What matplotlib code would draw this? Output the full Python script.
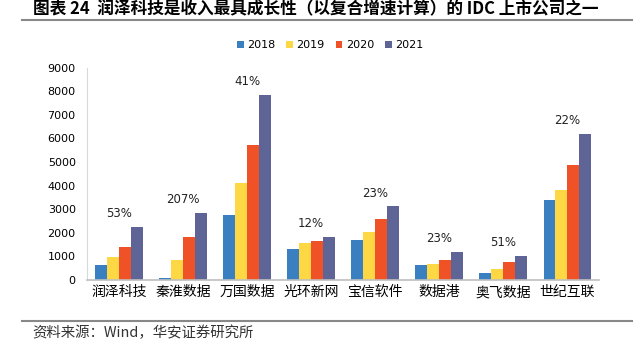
import matplotlib.pyplot as plt
import numpy as np

plt.rcParams['font.family'] = ['Noto Sans CJK SC', 'DejaVu Sans']

companies = ["润泽科技", "秦淮数据", "万国数据", "光环新网", "宝信软件", "数据港", "奥飞数据", "世纪互联"]
years = ["2018", "2019", "2020", "2021"]
rev_2018 = [610, 70, 2740, 1300, 1700, 640, 270, 3400]
rev_2019 = [970, 840, 4100, 1560, 2040, 670, 440, 3800]
rev_2020 = [1390, 1830, 5730, 1660, 2600, 840, 760, 4860]
rev_2021 = [2240, 2840, 7860, 1830, 3110, 1190, 1010, 6200]
cagr = ["53%", "207%", "41%", "12%", "23%", "23%", "51%", "22%"]

colors = ["#3A80C1", "#FDD844", "#F05228", "#5E6496"]

fig = plt.figure(figsize=(6.43, 3.51), dpi=100)
ax = fig.add_axes([0.135, 0.203, 0.797, 0.604])

x = np.arange(len(companies))
w = 0.185
series = [rev_2018, rev_2019, rev_2020, rev_2021]
for i, (vals, c, yr) in enumerate(zip(series, colors, years)):
    ax.bar(x + (i - 1.5) * w, vals, w, color=c, label=yr)

# CAGR labels above each group
for xi, vals, lab in zip(x, zip(*series), cagr):
    ax.annotate(lab, (xi, max(vals)), xytext=(0, 9.5), textcoords="offset points",
                ha="center", va="center", fontsize=8.5, family="DejaVu Sans", color="#222222")

ax.set_xlim(-0.5, len(companies) - 0.5)
ax.set_ylim(0, 9000)
ax.set_yticks(range(0, 9001, 1000))
ax.set_xticks(x)
ax.set_xticklabels(companies, fontsize=10)
ax.tick_params(axis="y", labelsize=8, length=0, pad=8)
ax.tick_params(axis="x", length=0, pad=4)
for lab in ax.get_yticklabels():
    lab.set_family("DejaVu Sans")
for s in ["top", "right"]:
    ax.spines[s].set_visible(False)
ax.spines["left"].set_color("#d9d9d9")
ax.spines["bottom"].set_color("#bfbfbf")
ax.spines["bottom"].set_linewidth(1.2)

ax.legend(loc="center", bbox_to_anchor=(0.475, 1.107), ncol=4, frameon=False,
          handlelength=0.6, handleheight=0.6, handletextpad=0.3,
          columnspacing=1.0, prop={"family": "DejaVu Sans", "size": 8})

fig.text(0.051, 0.973, "图表 24  润泽科技是收入最具成长性（以复合增速计算）的 IDC 上市公司之一",
         fontsize=12, fontweight="bold", va="center", ha="left")
fig.add_artist(plt.Line2D([0.034, 0.983], [0.944, 0.944], color="#888888", lw=1.5))
fig.add_artist(plt.Line2D([0.034, 0.983], [0.086, 0.086], color="#888888", lw=1.5))
fig.text(0.050, 0.051, "资料来源：Wind，华安证券研究所", fontsize=10.4, va="center", ha="left", color="#333333")

fig.savefig("out.png", dpi=100)
